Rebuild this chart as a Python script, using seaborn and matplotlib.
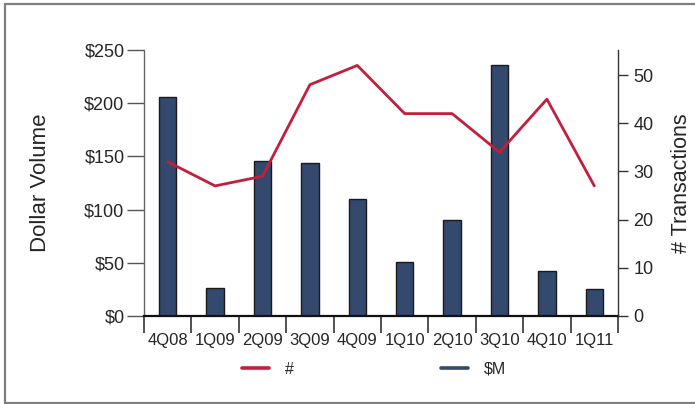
import numpy as np
import pandas as pd
import matplotlib
matplotlib.use("Agg")
import matplotlib.pyplot as plt
from matplotlib.lines import Line2D
import seaborn as sns

quarters = ["4Q08", "1Q09", "2Q09", "3Q09", "4Q09", "1Q10", "2Q10", "3Q10", "4Q10", "1Q11"]
dollar_volume = [206, 26, 146, 144, 110, 51, 90, 236, 42, 25]
transactions = [32, 27, 29, 48, 52, 42, 42, 34, 45, 27]
left_ticks = [0, 50, 100, 150, 200, 250]
left_labels = ["$0", "$50", "$100", "$150", "$200", "$250"]
right_ticks = [0, 10, 20, 30, 40, 50]

BAR = "#34496e"
RED = "#c41e3a"
TXT = "#262626"

sns.set_theme(style="white")
plt.rcParams["font.family"] = ["Liberation Sans", "DejaVu Sans"]

df = pd.DataFrame({"quarter": quarters, "volume": dollar_volume,
                   "count": transactions, "pos": np.arange(len(quarters))})

fig = plt.figure(figsize=(6.95, 4.04), dpi=100)
ax = fig.add_axes([144 / 695, 1 - 316 / 404, (618 - 144) / 695, (316 - 50) / 404])

sns.barplot(data=df, x="quarter", y="volume", color=BAR, saturation=1,
            width=0.37, edgecolor="#1a1a1a", linewidth=1.0, ax=ax, zorder=2)
ax.set_xlim(-0.5, len(quarters) - 0.5)
ax.set_ylim(0, 250)

ax2 = ax.twinx()
sns.lineplot(data=df, x="pos", y="count", color=RED, linewidth=2.0, ax=ax2)
ax2.set_ylim(0, 55.2)
ax2.set_xlim(-0.5, len(quarters) - 0.5)

# x axis: boundary ticks between categories, labels at category centres
ax.set_xticks(np.arange(-0.5, len(quarters), 1.0))
ax.set_xticklabels([])
ax.set_xticks(np.arange(len(quarters)), minor=True)
ax.set_xticklabels(quarters, minor=True, fontsize=12, color=TXT)
ax.tick_params(axis="x", which="major", direction="out", length=12, width=1.2,
               color="#333333", bottom=True)
ax.tick_params(axis="x", which="minor", length=0, pad=12, bottom=True)

ax.set_yticks(left_ticks)
ax.set_yticklabels(left_labels, fontsize=13, color=TXT)
ax.tick_params(axis="y", direction="out", length=12, width=1.0, color="#555555",
               left=True, pad=2)

ax2.set_yticks(right_ticks)
ax2.set_yticklabels([str(t) for t in right_ticks], fontsize=13, color=TXT)
ax2.tick_params(axis="y", direction="out", length=7, width=1.0, color="#333333",
                right=True, pad=4)

for a in (ax, ax2):
    a.spines["top"].set_visible(False)
    a.grid(False)
ax.spines["right"].set_visible(False)
ax.spines["left"].set_color("#666666")
ax.spines["left"].set_linewidth(1.0)
ax.spines["bottom"].set_color("#111111")
ax.spines["bottom"].set_linewidth(1.6)
ax2.spines["left"].set_visible(False)
ax2.spines["bottom"].set_visible(False)
ax2.spines["right"].set_color("#333333")
ax2.spines["right"].set_linewidth(1.0)

ax.set_xlabel("")
ax.set_ylabel("Dollar Volume", fontsize=16, color=TXT, labelpad=24)
ax2.set_xlabel("")
ax2.set_ylabel("# Transactions", fontsize=15.5, color=TXT, labelpad=13)

handles = [Line2D([], [], color=RED, linewidth=2.6),
           Line2D([], [], color=BAR, linewidth=2.6)]
fig.legend(handles, ["#", "$M"], loc="center", ncol=2, frameon=False,
           bbox_to_anchor=(0.538, 1 - 369 / 404), fontsize=11.5,
           handlelength=1.7, handletextpad=1.0, columnspacing=9.2,
           labelcolor=TXT)

# outer frame
frame_kw = dict(color="#7f7f7f", linewidth=1.6, transform=fig.transFigure,
                clip_on=False)
fig.add_artist(Line2D([5 / 695, 5 / 695], [1 - 4 / 404, 1 - 402.5 / 404], **frame_kw))
fig.add_artist(Line2D([5 / 695, 1.01], [1 - 4 / 404, 1 - 4 / 404], **frame_kw))
fig.add_artist(Line2D([5 / 695, 1.01], [1 - 402.5 / 404, 1 - 402.5 / 404], **frame_kw))

fig.savefig("out.png", dpi=100)
